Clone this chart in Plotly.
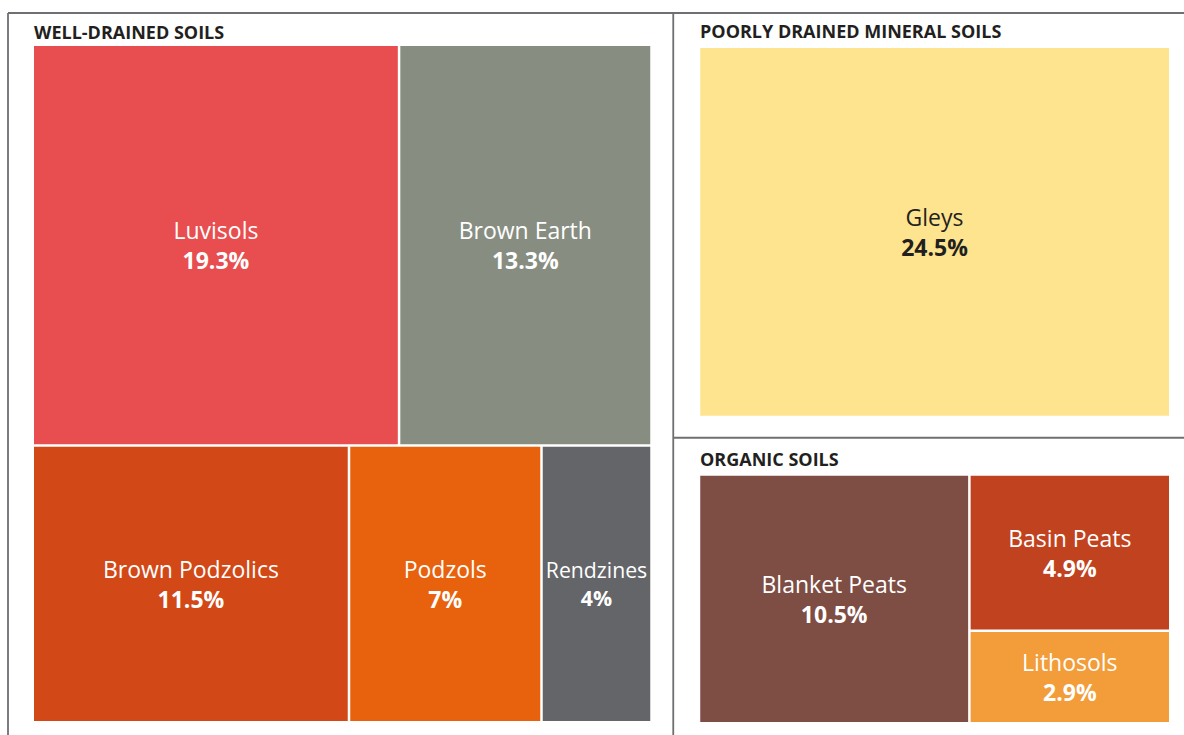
import plotly.graph_objects as go

# ---------------- data ----------------
group_names = ["WELL-DRAINED SOILS", "POORLY DRAINED MINERAL SOILS", "ORGANIC SOILS"]

wd_labels = ["Luvisols", "Brown Earth", "Brown Podzolics", "Podzols", "Rendzines"]
wd_values = [19.3, 13.3, 11.5, 7, 4]
wd_colors = ["#E84E4F", "#878E81", "#D24817", "#E8620D", "#636569"]

pd_labels = ["Gleys"]
pd_values = [24.5]
pd_colors = ["#FEE48F"]

or_labels = ["Blanket Peats", "Basin Peats", "Lithosols"]
or_values = [10.5, 4.9, 2.9]
or_colors = ["#7E4D44", "#C1421E", "#F29C3A"]

# ---------------- layout constants ----------------
W, H = 1184, 735
FX0, FY0, FW, FH = 8, 13, 1182, 742     # outer frame (extends past the page edge)
FRAME_COLOR = "#6E6F72"
FONT = "Open Sans"
DARK = "#231F20"

tot_wd, tot_pd, tot_or = sum(wd_values), sum(pd_values), sum(or_values)
total = tot_wd + tot_pd + tot_or
x_split = FX0 + FW * tot_wd / total
y_split = FY0 + FH * tot_pd / (tot_pd + tot_or)

rects = {
    "wd": (FX0, FY0, x_split, FY0 + FH),
    "pd": (x_split, FY0, FX0 + FW, y_split),
    "or": (x_split, y_split, FX0 + FW, FY0 + FH),
}
pads = {
    "wd": dict(t=33, l=26, r=23, b=14),
    "pd": dict(t=35, l=27, r=15, b=22),
    "or": dict(t=38, l=27, r=15, b=13),
}
header_dy = {"wd": 18.7, "pd": 18.2, "or": 21.7}


def clip(v, lo, hi):
    return max(lo, min(hi, v))


def domain_of(r):
    x0, y0, x1, y1 = r
    x0, x1 = clip(x0, 0, W), clip(x1, 0, W)
    y0, y1 = clip(y0, 0, H), clip(y1, 0, H)
    return dict(x=[x0 / W, x1 / W], y=[1 - y1 / H, 1 - y0 / H])


def make_tree(name, labels, values, colors, txtcolors, key):
    n = len(labels)
    ids = [name] + [name + "/" + l for l in labels]
    text = [""] + [f"{l}<br><b>{v:g}%</b>" for l, v in zip(labels, values)]
    return go.Treemap(
        ids=ids,
        labels=[" "] + labels,
        parents=[""] + [name] * n,
        values=[0] + values,
        branchvalues="remainder",
        sort=True,
        text=text,
        texttemplate=[""] + ["%{text}"] * n,
        textposition="middle center",
        textfont=dict(family=FONT, size=23, color=[DARK] + txtcolors),
        marker=dict(
            colors=["white"] + colors,
            line=dict(color=["rgba(0,0,0,0)"] + ["white"] * n, width=[0] * (n + 1)),
            pad=pads[key],
            depthfade=False,
        ),
        tiling=dict(packing="squarify", squarifyratio=1, pad=2.5),
        pathbar=dict(visible=False),
        domain=domain_of(rects[key]),
        hoverinfo="skip",
    )


fig = go.Figure()
fig.add_trace(make_tree(group_names[0], wd_labels, wd_values, wd_colors,
                        ["white"] * len(wd_labels), "wd"))
fig.add_trace(make_tree(group_names[1], pd_labels, pd_values, pd_colors,
                        [DARK] * len(pd_labels), "pd"))
fig.add_trace(make_tree(group_names[2], or_labels, or_values, or_colors,
                        ["white"] * len(or_labels), "or"))

# group headers
annotations = []
for key, name in zip(["wd", "pd", "or"], group_names):
    x0, y0, _, _ = rects[key]
    annotations.append(dict(
        x=(x0 + pads[key]["l"] - 1) / W,
        y=1 - (y0 + header_dy[key]) / H,
        xref="paper", yref="paper",
        xanchor="left", yanchor="middle",
        borderpad=0,
        text=f"<b>{name}</b>",
        showarrow=False,
        font=dict(family=FONT, size=18, color=DARK),
    ))

# frame lines following the group boundaries
def px_line(xa, ya, xb, yb):
    return dict(type="line", xref="paper", yref="paper",
                x0=clip(xa, 0, W) / W, x1=clip(xb, 0, W) / W,
                y0=1 - clip(ya, 0, H) / H, y1=1 - clip(yb, 0, H) / H,
                line=dict(color=FRAME_COLOR, width=1.8), layer="above")

shapes = [
    px_line(FX0, FY0, FX0 + FW, FY0),            # top
    px_line(FX0, FY0, FX0, FY0 + FH),            # left
    px_line(x_split, FY0, x_split, FY0 + FH),    # vertical divider
    px_line(x_split, y_split, FX0 + FW, y_split) # horizontal divider
]

fig.update_layout(
    width=W, height=H,
    margin=dict(l=0, r=0, t=0, b=0),
    paper_bgcolor="white",
    plot_bgcolor="white",
    annotations=annotations,
    shapes=shapes,
    showlegend=False,
)

fig.write_html("out.html")
